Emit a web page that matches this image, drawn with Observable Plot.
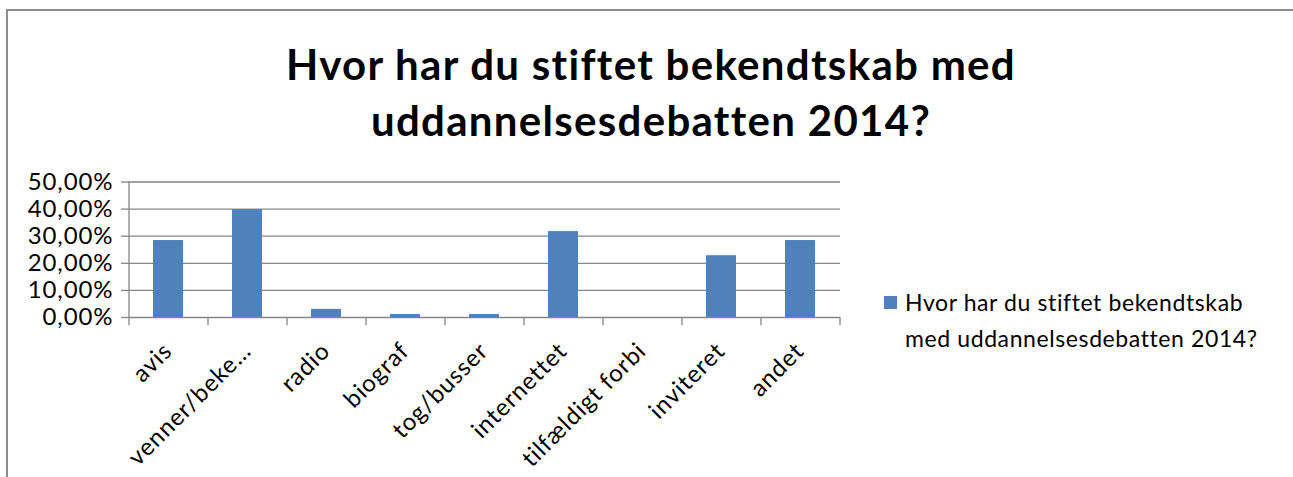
<!DOCTYPE html>
<html><head><meta charset="utf-8">
<script src="https://cdn.jsdelivr.net/npm/d3@7"></script>
<script src="https://cdn.jsdelivr.net/npm/@observablehq/plot@0.6"></script>
<style>
html,body{margin:0;padding:0;background:#fff;}
body{width:1293px;height:477px;overflow:hidden;position:relative;font-family:Lato,"Open Sans",sans-serif;color:#000;}
#frame{position:absolute;left:6px;top:9px;width:1300px;height:500px;border-left:2px solid #8c8c8c;border-top:2px solid #8c8c8c;}
#title{position:absolute;left:7px;width:1288px;top:36px;text-align:center;font-weight:bold;font-size:42px;letter-spacing:1.3px;line-height:56px;}
#chart{position:absolute;left:0;top:170px;}
#legend{position:absolute;left:884px;top:284px;font-size:23px;letter-spacing:0.6px;line-height:36px;}
#legend .sw{position:absolute;left:0;top:12px;width:13px;height:13px;}
#legend .tx{position:absolute;left:21px;top:0;white-space:nowrap;}
svg text{letter-spacing:0.9px;}
</style></head>
<body>
<div id="frame"></div>
<div id="title"></div>
<div id="chart"></div>
<div id="legend"><div class="sw"></div><div class="tx"></div></div>
<script>
const categories = ["avis","venner/beke…","radio","biograf","tog/busser","internettet","tilfældigt forbi","inviteret","andet"];
const values = [0.284, 0.398, 0.030, 0.011, 0.011, 0.317, 0, 0.228, 0.284];
const yTicks = [0, 0.1, 0.2, 0.3, 0.4, 0.5];
const titleLines = ["Hvor har du stiftet bekendtskab med", "uddannelsesdebatten 2014?"];
const legendLines = ["Hvor har du stiftet bekendtskab", "med uddannelsesdebatten 2014?"];
const barColor = "#4F81BD";
const gridColor = "#868686";

document.getElementById("title").innerHTML = titleLines.join("<br>");
document.querySelector("#legend .sw").style.background = barColor;
document.querySelector("#legend .tx").innerHTML = legendLines.join("<br>");

const data = categories.map((c, i) => ({category: c, value: values[i]}));
const W = 860, H = 307, ml = 129, mr = 20, mt = 11.5, mb = 160;
const step = (W - ml - mr) / categories.length;
const fmt = d => d3.format(".2f")(d * 100).replace(".", ",") + "%";
const last = categories[categories.length - 1];

const chart = Plot.plot({
  width: W, height: H,
  marginLeft: ml, marginRight: mr, marginTop: mt, marginBottom: mb,
  style: {fontFamily: "Lato, 'Open Sans', sans-serif", fontSize: "24px", color: "#000", background: "transparent", overflow: "visible"},
  x: {domain: categories, paddingInner: 0.62, paddingOuter: 0.31, label: null},
  y: {domain: [0, 0.5], label: null},
  marks: [
    Plot.gridY(yTicks, {stroke: gridColor, strokeOpacity: 1, strokeWidth: 1.3}),
    Plot.axisY(yTicks, {tickSize: 8, tickPadding: 8, tickFormat: fmt, stroke: gridColor, strokeWidth: 1.3, fill: "#000", fontSize: 24, label: null}),
    Plot.ruleX([categories[0]], {x: d => d, y1: 0, y2: 0.5, dx: -step / 2, stroke: gridColor, strokeWidth: 1.3}),
    Plot.ruleX(categories, {x: d => d, y1: 0, y2: -0.03, dx: -step / 2, stroke: gridColor, strokeWidth: 1.3}),
    Plot.ruleX([last], {x: d => d, y1: 0, y2: -0.03, dx: step / 2, stroke: gridColor, strokeWidth: 1.3}),
    Plot.barY(data, {x: "category", y: "value", fill: barColor}),
    Plot.axisX({tickSize: 0, tickRotate: -45, tickPadding: 35, dx: 5, lineAnchor: "bottom", textAnchor: "end", fontSize: 24, fill: "#000", label: null})
  ]
});
document.getElementById("chart").appendChild(chart);
</script>
</body></html>
